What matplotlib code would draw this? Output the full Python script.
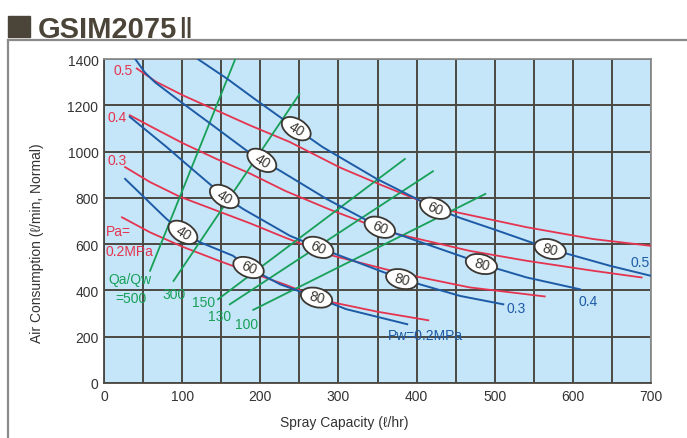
import matplotlib
matplotlib.use("Agg")
import matplotlib.pyplot as plt
from matplotlib.patches import Ellipse, Rectangle
from matplotlib.lines import Line2D
from matplotlib.transforms import ScaledTranslation

plt.rcParams['font.family'] = ['Liberation Sans', 'DejaVu Sans']

# water pressure curves (Pw), spray capacity l/hr vs air l/min
pw05_x = [120, 157, 195, 246, 280, 349, 424, 456, 498, 571, 648, 700]
pw05_y = [1400, 1316, 1222, 1099, 1019, 882, 755, 713, 665, 579, 506, 463]
pw04_x = [40, 52, 65, 101, 136, 183, 202, 225, 285, 353, 375, 468, 483, 541, 609]
pw04_y = [1400, 1343, 1300, 1208, 1121, 1003, 962, 918, 795, 673, 644, 535, 514, 456, 405]
pw03_x = [33, 80, 115, 154, 178, 238, 274, 381, 456, 511]
pw03_y = [1150, 1020, 918, 806, 752, 636, 586, 449, 376, 340]
pw02_x = [27, 80, 101, 123, 165, 185, 225, 272, 310, 388]
pw02_y = [882, 709, 651, 608, 550, 499, 427, 369, 319, 254]

# air pressure curves (Pa)
pa05_x = [42, 67, 101, 144, 187, 238, 302, 353, 404, 451, 541, 626, 699]
pa05_y = [1359, 1301, 1243, 1178, 1113, 1041, 931, 858, 788, 738, 673, 622, 593]
pa04_x = [33, 59, 101, 144, 187, 232, 290, 332, 375, 468, 541, 626, 688]
pa04_y = [1157, 1110, 1036, 968, 905, 830, 748, 694, 644, 571, 528, 485, 456]
pa03_x = [27, 59, 97, 144, 187, 232, 259, 293, 362, 400, 468, 564]
pa03_y = [933, 868, 805, 745, 690, 628, 593, 550, 490, 460, 413, 374]
pa02_x = [23, 59, 101, 144, 187, 232, 272, 293, 350, 415]
pa02_y = [716, 651, 588, 532, 478, 425, 372, 348, 308, 271]

# Qa/Qw ratio lines, start and end points
ratio_labels = ['500', '300', '150', '130', '100']
ratio_x0 = [59, 89, 146, 161, 191]
ratio_y0 = [485, 441, 362, 340, 316]
ratio_x1 = [168, 250, 385, 421, 488]
ratio_y1 = [1400, 1248, 968, 915, 817]

# oval markers along the Pw curves
oval_text = ['40', '60', '80'] * 4
oval_x = [246, 424, 571, 202, 353, 483, 154, 274, 381, 101, 185, 272]
oval_y = [1099, 755, 579, 962, 673, 514, 806, 586, 449, 651, 499, 369]
oval_angle = [-32, -22, -15] * 4

BLUE = '#1d5ba6'
RED = '#e5344f'
GREEN = '#17a058'
DARK = '#3b3732'

fig = plt.figure(figsize=(6.87, 4.39), dpi=100)
ax = fig.add_axes([104 / 687, 55 / 439, 547 / 687, 324 / 439])
ax.set_facecolor('#c5e5f8')
ax.set_xlim(0, 700)
ax.set_ylim(0, 1400)
ax.set_xticks(range(0, 701, 100))
ax.set_yticks(range(0, 1401, 200))
ax.set_xticks(range(0, 701, 50), minor=True)
ax.grid(True, which='both', color='#4b4843', lw=1.4, zorder=1)
ax.tick_params(which='both', length=0, labelsize=10, colors='#333333', pad=4)
for s in ax.spines.values():
    s.set_color('#8c8c8c')
    s.set_linewidth(1.3)
ax.spines['left'].set_color('#4b4843')
ax.spines['bottom'].set_color('#4b4843')

for xs, ys in [(pa05_x, pa05_y), (pa04_x, pa04_y), (pa03_x, pa03_y), (pa02_x, pa02_y)]:
    ax.plot(xs, ys, color=RED, lw=1.3, zorder=3)
for x0, y0, x1, y1 in zip(ratio_x0, ratio_y0, ratio_x1, ratio_y1):
    ax.plot([x0, x1], [y0, y1], color=GREEN, lw=1.3, zorder=3)
for xs, ys in [(pw05_x, pw05_y), (pw04_x, pw04_y), (pw03_x, pw03_y), (pw02_x, pw02_y)]:
    ax.plot(xs, ys, color=BLUE, lw=1.4, zorder=4)

for t, x, y, a in zip(oval_text, oval_x, oval_y, oval_angle):
    tr = fig.dpi_scale_trans + ScaledTranslation(x, y, ax.transData)
    ax.add_patch(Ellipse((0, 0), 0.32, 0.19, angle=a, transform=tr,
                         fc='white', ec=DARK, lw=1.3, zorder=5))
    ax.text(x, y, t, rotation=a, rotation_mode='anchor', ha='center',
            va='center', fontsize=10, color=DARK, zorder=6)

# Pa labels
for t, x, y in [('0.5', 12, 1351), ('0.4', 5, 1150), ('0.3', 4, 964),
                ('Pa=', 2, 658), ('0.2MPa', 2, 571)]:
    ax.text(x, y, t, color=RED, fontsize=10, ha='left', va='center', zorder=6)

# Qa/Qw labels
ax.text(33, 449, 'Qa/Qw', color=GREEN, fontsize=10, ha='center', va='center', zorder=6)
ax.text(35, 369, '=' + ratio_labels[0], color=GREEN, fontsize=10, ha='center', va='center', zorder=6)
for t, x, y in zip(ratio_labels[1:], [89, 127, 148, 183], [384, 350, 290, 254]):
    ax.text(x, y, t, color=GREEN, fontsize=10, ha='center', va='center', zorder=6)

# Pw labels
for t, x, y in [('0.5', 686, 521), ('0.4', 620, 355), ('0.3', 528, 326)]:
    ax.text(x, y, t, color=BLUE, fontsize=10, ha='center', va='center', zorder=6)
ax.text(363, 206, 'Pw=0.2MPa', color=BLUE, fontsize=10, ha='left', va='center', zorder=6)

ax.set_xlabel('Spray Capacity (ℓ/hr)', fontsize=10, color='#333333')
ax.set_ylabel('Air Consumption (ℓ/min, Normal)', fontsize=10, color='#333333')
ax.xaxis.set_label_coords(0.44, -0.10)
ax.yaxis.set_label_coords(-0.11, 0.434)

# outer frame and heading
fig.add_artist(Line2D([8 / 687, 1], [1 - 41 / 439] * 2, color='#8a8a8a', lw=1.6))
fig.add_artist(Line2D([8 / 687] * 2, [0, 1 - 41 / 439], color='#8a8a8a', lw=1.6))
fig.add_artist(Rectangle((8 / 687, 1 - 38 / 439), 22 / 687, 21 / 439,
                         transform=fig.transFigure, color='#4a4538'))
head = fig.text(38 / 687, 1 - 38 / 439, 'GSIM2075', fontsize=21, fontweight='bold',
                color='#4a4538', ha='left', va='baseline')
bb = head.get_window_extent(renderer=fig.canvas.get_renderer())
fig.text(bb.x1 / fig.bbox.width + 1 / 687, 1 - 38 / 439, 'Ⅱ', fontsize=21,
         family='DejaVu Sans', color='#4a4538', ha='left', va='baseline')

fig.savefig('out.png', dpi=100)
